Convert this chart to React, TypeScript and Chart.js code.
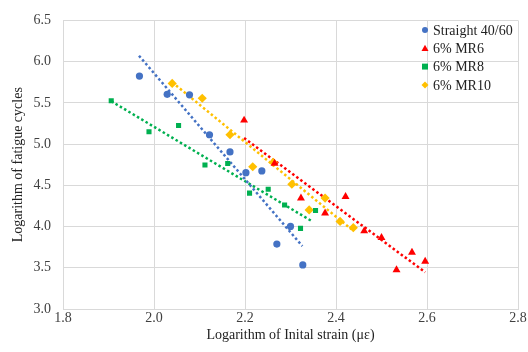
import React, { useEffect, useRef } from "react";
import { Chart, registerables } from "chart.js";

Chart.register(...registerables);

const seriesNames = ["Straight 40/60", "6% MR6", "6% MR8", "6% MR10"];

const straightX = [1.968, 2.029, 2.078, 2.122, 2.167, 2.202, 2.237, 2.300, 2.270, 2.327];
const straightY = [5.825, 5.604, 5.597, 5.113, 4.905, 4.653, 4.674, 4.002, 3.787, 3.534];

const mr6X = [2.198, 2.265, 2.323, 2.376, 2.421, 2.462, 2.500, 2.533, 2.567, 2.596];
const mr6Y = [5.289, 4.765, 4.345, 4.162, 4.362, 3.946, 3.866, 3.475, 3.686, 3.578];

const mr8X = [1.906, 1.989, 2.054, 2.112, 2.162, 2.210, 2.251, 2.287, 2.355, 2.322];
const mr8Y = [5.525, 5.149, 5.225, 4.746, 4.765, 4.405, 4.453, 4.261, 4.194, 3.978];

const mr10X = [2.040, 2.106, 2.167, 2.217, 2.262, 2.303, 2.376, 2.341, 2.409, 2.438];
const mr10Y = [5.736, 5.556, 5.113, 4.725, 4.777, 4.513, 4.345, 4.201, 4.062, 3.986];

// trendline endpoints [x0, x1], [y0, y1]
const straightTrendX = [1.967, 2.326];
const straightTrendY = [6.072, 3.763];
const mr6TrendX = [2.198, 2.596];
const mr6TrendY = [5.073, 3.446];
const mr8TrendX = [1.906, 2.349];
const mr8TrendY = [5.52, 4.058];
const mr10TrendX = [2.040, 2.434];
const mr10TrendY = [5.75, 3.966];

const xTicks = [1.8, 2.0, 2.2, 2.4, 2.6, 2.8];
const yTicks = [3.0, 3.5, 4.0, 4.5, 5.0, 5.5, 6.0, 6.5];

const colors = ["#4472C4", "#FF0000", "#00B050", "#FFC000"];
const styles = ["circle", "triangle", "rect", "rectRot"];
const radii = [3.6, 4.6, 3.6, 4.6];

const zip = (xs: number[], ys: number[]) => xs.map((x, i) => ({ x, y: ys[i] }));

const FONT = "'Liberation Serif', 'Times New Roman', serif";

const legendPlugin = {
  id: "customLegend",
  afterDraw(chart: any) {
    const ctx = chart.ctx;
    ctx.save();
    ctx.font = `14px ${FONT}`;
    ctx.textBaseline = "middle";
    ctx.textAlign = "left";
    const x0 = 425;
    const y0 = 30;
    const dy = 18.3;
    seriesNames.forEach((name, i) => {
      const y = y0 + i * dy;
      const ds = chart.data.datasets[i];
      ctx.fillStyle = ds.backgroundColor;
      const r = i === 0 ? 3 : 3.5;
      ctx.beginPath();
      if (styles[i] === "circle") {
        ctx.arc(x0, y, r, 0, Math.PI * 2);
      } else if (styles[i] === "triangle") {
        ctx.moveTo(x0, y - r);
        ctx.lineTo(x0 + r, y + r * 0.8);
        ctx.lineTo(x0 - r, y + r * 0.8);
        ctx.closePath();
      } else if (styles[i] === "rect") {
        ctx.rect(x0 - r * 0.85, y - r * 0.85, r * 1.7, r * 1.7);
      } else {
        ctx.moveTo(x0, y - r);
        ctx.lineTo(x0 + r, y);
        ctx.lineTo(x0, y + r);
        ctx.lineTo(x0 - r, y);
        ctx.closePath();
      }
      ctx.fill();
      ctx.fillStyle = "#222";
      ctx.fillText(name, x0 + 8, y + 1);
    });
    ctx.restore();
  },
};

export default function App() {
  const ref = useRef<HTMLCanvasElement>(null);

  useEffect(() => {
    if (!ref.current) return;
    const scatterSets = [
      zip(straightX, straightY),
      zip(mr6X, mr6Y),
      zip(mr8X, mr8Y),
      zip(mr10X, mr10Y),
    ].map((data, i) => ({
      label: seriesNames[i],
      data,
      backgroundColor: colors[i],
      borderColor: colors[i],
      pointStyle: styles[i],
      pointRadius: radii[i],
      pointBorderWidth: 0,
      showLine: false,
      order: 1,
    }));
    const trendSets = [
      zip(straightTrendX, straightTrendY),
      zip(mr6TrendX, mr6TrendY),
      zip(mr8TrendX, mr8TrendY),
      zip(mr10TrendX, mr10TrendY),
    ].map((data, i) => ({
      label: seriesNames[i] + " trend",
      data,
      borderColor: colors[i],
      backgroundColor: colors[i],
      borderWidth: 2.5,
      borderDash: [2.5, 2.5],
      pointRadius: 0,
      showLine: true,
      fill: false,
      order: 2,
    }));

    const chart = new Chart(ref.current, {
      type: "scatter",
      data: { datasets: [...scatterSets, ...trendSets] as any },
      options: {
        animation: false,
        responsive: false,
        maintainAspectRatio: false,
        layout: { padding: { left: 10, right: 10, top: 17, bottom: 8 } },
        plugins: {
          legend: { display: false },
          tooltip: { enabled: false },
        },
        scales: {
          x: {
            type: "linear",
            min: xTicks[0],
            max: xTicks[xTicks.length - 1],
            afterBuildTicks: (scale: any) => {
              scale.ticks = xTicks.map((v) => ({ value: v }));
            },
            afterFit: (scale: any) => {
              scale.height = 35;
            },
            grid: { color: "#d9d9d9", drawTicks: false, lineWidth: 1 },
            border: { color: "#d9d9d9" },
            ticks: {
              padding: 1,
              color: "#404040",
              font: { family: FONT, size: 14 },
              callback: (v: any) => Number(v).toFixed(1),
            },
            title: {
              display: true,
              text: "Logarithm of Inital strain (με)",
              color: "#222",
              font: { family: FONT, size: 14 },
              padding: { top: 0, bottom: 0 },
            },
          },
          y: {
            type: "linear",
            min: yTicks[0],
            max: yTicks[yTicks.length - 1],
            afterBuildTicks: (scale: any) => {
              scale.ticks = yTicks.map((v) => ({ value: v }));
            },
            afterFit: (scale: any) => {
              scale.width = 53;
            },
            grid: { color: "#d9d9d9", drawTicks: false, lineWidth: 1 },
            border: { color: "#d9d9d9" },
            ticks: {
              padding: 12,
              color: "#404040",
              font: { family: FONT, size: 14 },
              callback: (v: any) => Number(v).toFixed(1),
            },
            title: {
              display: true,
              text: "Logarithm of fatigue cycles",
              color: "#222",
              font: { family: FONT, size: 14 },
              padding: { top: 0, bottom: 0 },
            },
          },
        },
      },
      plugins: [legendPlugin],
    });
    return () => chart.destroy();
  }, []);

  return (
    <div style={{ position: "absolute", left: 0, top: 0, width: 528, height: 352, background: "#fff" }}>
      <canvas ref={ref} width={528} height={352} />
    </div>
  );
}
